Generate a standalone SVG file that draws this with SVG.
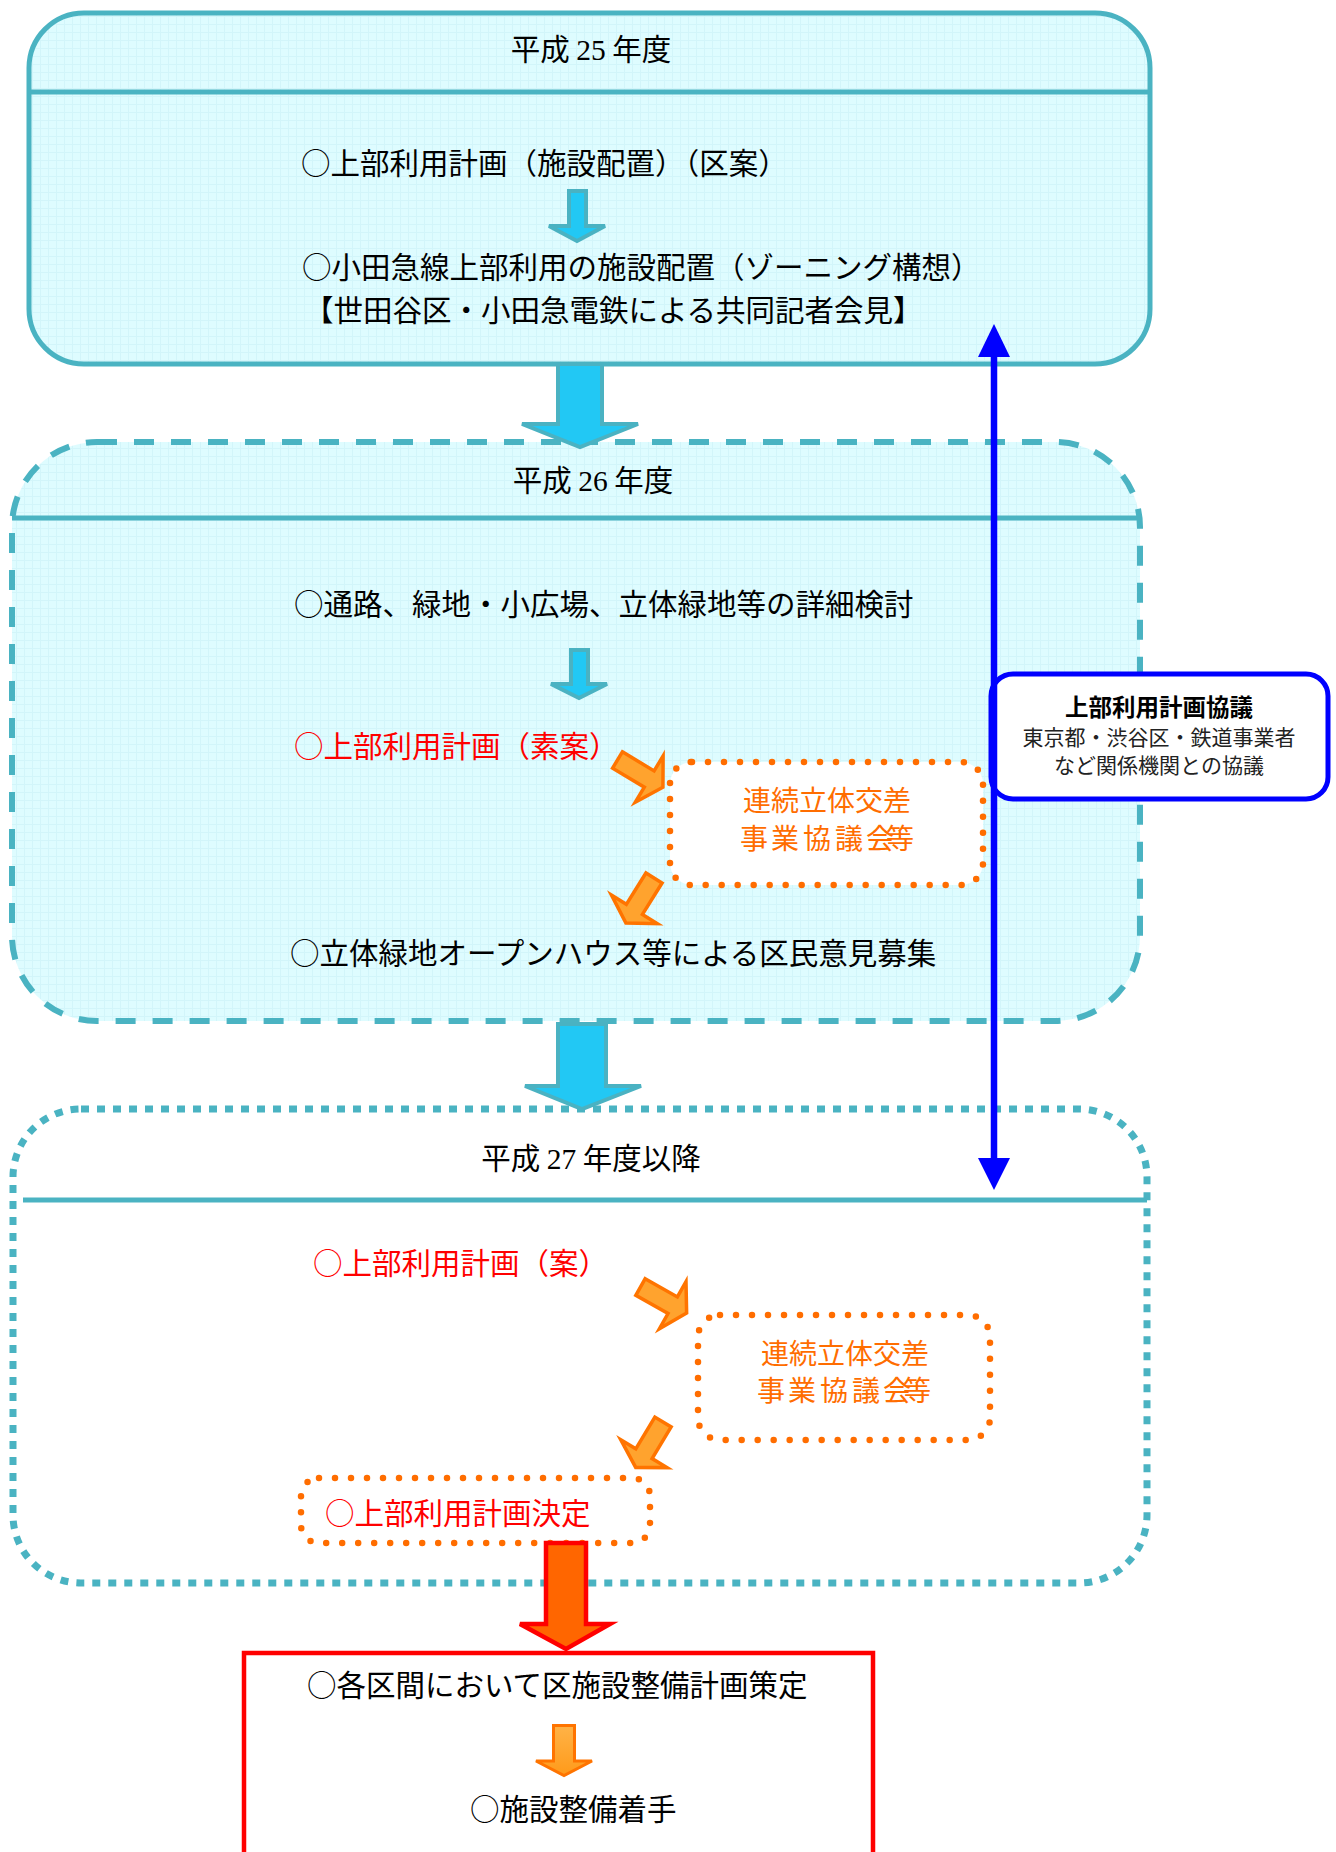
<svg xmlns="http://www.w3.org/2000/svg" width="1336" height="1852" viewBox="0 0 1336 1852">
<defs>
<pattern id="grid" width="8" height="8" patternUnits="userSpaceOnUse">
<rect width="8" height="8" fill="#DEFCFF"/>
<path d="M0,0.5H8M0.5,0V8" stroke="#D2F5FA" stroke-width="1"/>
</pattern>
<linearGradient id="og" x1="0" y1="0" x2="0" y2="1">
<stop offset="0" stop-color="#FFB347"/>
<stop offset="1" stop-color="#FF9A1A"/>
</linearGradient>
<path id="diag" d="M0,-9.5 H37 V-27 L53,0 L37,27 V9.5 H0 Z"/>
<style>
.t{font-family:'Noto Sans CJK JP','Noto Sans',sans-serif;font-size:29.5px;fill:#000}
.ttl{text-anchor:middle}
.num{font-family:'Liberation Serif',serif}
.red{fill:#FF0000}
.org{font-family:'Noto Sans CJK JP','Noto Sans',sans-serif;font-size:28px;fill:#FF6D00}
.bt{font-family:'Noto Sans CJK JP','Noto Sans',sans-serif;text-anchor:middle}
.phase{fill:url(#grid);stroke:#4AB3C2;stroke-width:5}
.hdr{stroke:#4AB3C2;stroke-width:5;fill:none}
.dots{fill:#FFFFFF;stroke:#FF6D00;stroke-width:6.5;stroke-dasharray:0 16;stroke-linecap:round}
.cyan{fill:#22C8F4;stroke:#4AB2C2;stroke-width:4;stroke-linejoin:miter}
.oar{fill:#FFA32E;stroke:#FF7400;stroke-width:3.5;stroke-linejoin:miter}
</style>
</defs>
<rect width="1336" height="1852" fill="#FFFFFF"/>

<g id="phase-h25">
<rect class="phase" x="29" y="13" width="1121" height="351" rx="55"/>
<line class="hdr" x1="29" y1="92" x2="1150" y2="92"/>
<text class="t ttl" x="591" y="60">平成 <tspan class="num">25</tspan> 年度</text>
<text class="t" x="301" y="174">○上部利用計画（施設配置）（区案）</text>
<text class="t" x="302" y="278">○小田急線上部利用の施設配置（ゾーニング構想）</text>
<text class="t" x="304" y="321">【世田谷区・小田急電鉄による共同記者会見】</text>
</g>

<g id="phase-h26">
<rect class="phase" x="12" y="442" width="1128" height="579" rx="85" style="stroke-width:6;stroke-dasharray:20 17"/>
<line class="hdr" x1="12" y1="518" x2="1140" y2="518"/>
<text class="t ttl" x="593" y="491">平成 <tspan class="num">26</tspan> 年度</text>
<text class="t" x="294" y="615">○通路、緑地・小広場、立体緑地等の詳細検討</text>
<text class="t red" x="294" y="757">○上部利用計画（素案）</text>
<text class="t" x="290" y="964">○立体緑地オープンハウス等による区民意見募集</text>
</g>

<g id="council-h26">
<rect class="dots" x="670" y="762" width="313" height="123" rx="22"/>
<text class="org" x="827" y="811" text-anchor="middle">連続立体交差</text>
<text class="org" x="740 771 803 835 866 886" y="849">事業協議会等</text>
</g>

<g id="phase-h27">
<rect x="13" y="1109" width="1134" height="474" rx="68" fill="#FFFFFF" stroke="#4AB3C2" stroke-width="7" stroke-dasharray="8 8"/>
<line class="hdr" x1="23" y1="1200" x2="1147" y2="1200"/>
<text class="t ttl" x="591" y="1169">平成 <tspan class="num">27</tspan> 年度以降</text>
<text class="t red" x="313" y="1274">○上部利用計画（案）</text>
</g>

<g id="council-h27">
<rect class="dots" x="698" y="1315" width="292" height="125" rx="22"/>
<text class="org" x="845" y="1364" text-anchor="middle">連続立体交差</text>
<text class="org" x="757 788 820 852 883 903" y="1401">事業協議会等</text>
</g>

<g id="decision">
<rect class="dots" x="301" y="1478" width="349" height="65" rx="18"/>
<text class="t red" x="325" y="1524">○上部利用計画決定</text>
</g>

<g id="consultation">
<rect x="991" y="674" width="337" height="125" rx="22" fill="#FFFFFF" stroke="#0000FF" stroke-width="5"/>
<text class="bt" x="1159" y="716" font-size="23.5" font-weight="bold" fill="#000">上部利用計画協議</text>
<text class="bt" x="1159" y="745" font-size="21" fill="#222">東京都・渋谷区・鉄道事業者</text>
<text class="bt" x="1159" y="773" font-size="21" fill="#222">など関係機関との協議</text>
</g>

<g id="implementation">
<rect x="244" y="1653" width="629" height="220" fill="#FFFFFF" stroke="#FF0000" stroke-width="4.5"/>
<text class="t" x="307" y="1696">○各区間において区施設整備計画策定</text>
<text class="t" x="470" y="1820">○施設整備着手</text>
</g>

<g id="connectors">
<path class="cyan" d="M569,191 H586 V226 H605 L577,241 L549,226 H569 Z"/>
<path class="cyan" d="M571,650 H588 V684 H607 L579,698 L551,684 H571 Z"/>
<path class="cyan" d="M558,364 H602 V424 H638 L580,447 L522,424 H558 Z"/>
<path class="cyan" d="M558,1024 H606 V1086 H641 L582,1109 L525,1086 H558 Z"/>
<use href="#diag" class="oar" transform="translate(617.5,760) rotate(31)"/>
<use href="#diag" class="oar" transform="translate(654,878) rotate(122)"/>
<use href="#diag" class="oar" transform="translate(640.5,1287) rotate(29.5)"/>
<use href="#diag" class="oar" transform="translate(663,1422) rotate(121)"/>
<path d="M546,1543 H586 V1624 H610 L566,1649 L520,1624 H546 Z" fill="#FF6600" stroke="#FF0000" stroke-width="4.5"/>
<path d="M553.5,1725.5 H574.5 V1761 H592 L564,1775.5 L536,1761 H553.5 Z" fill="url(#og)" stroke="#FF7400" stroke-width="3"/>
<line x1="994" y1="350" x2="994" y2="1164" stroke="#0000FF" stroke-width="6.5"/>
<polygon points="994,324 1010,357 978,357" fill="#0000FF"/>
<polygon points="994,1190 1010,1158 978,1158" fill="#0000FF"/>
</g>
</svg>
